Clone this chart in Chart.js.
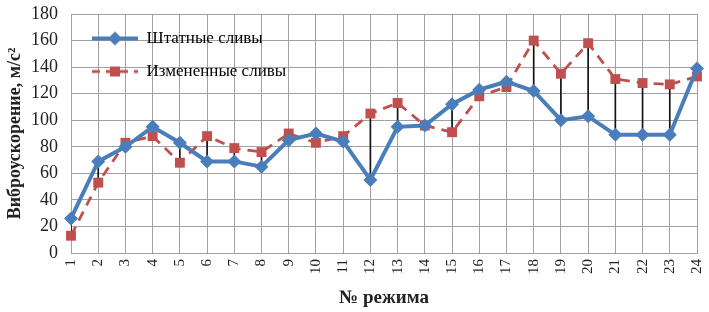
<!DOCTYPE html>
<html>
<head>
<meta charset="utf-8">
<script src="https://cdn.jsdelivr.net/npm/chart.js@4.4.0/dist/chart.umd.min.js"></script>
<style>
  html, body { margin: 0; padding: 0; background: #fff; }
</style>
</head>
<body>
<canvas id="chart" width="709" height="312"></canvas>
<script>
// режимы 1..24
const modes = ['1','2','3','4','5','6','7','8','9','10','11','12','13','14','15','16','17','18','19','20','21','22','23','24'];
const standardDrains = [26, 69, 80, 95, 83, 69, 69, 65, 85, 90, 84, 55, 95, 96, 112, 123, 129, 122, 100, 103, 89, 89, 89, 139];
const modifiedDrains = [13, 53, 83, 88, 68, 88, 79, 76, 90, 83, 88, 105, 113, 96, 91, 118, 125, 160, 135, 158, 131, 128, 127, 133];
const yTicks = [0, 20, 40, 60, 80, 100, 120, 140, 160, 180];

const blue = '#4a7ebb';
const red = '#c0504d';
const serif = '"Liberation Serif", "DejaVu Serif", serif';

// little line+marker pictures for the legend
function legendIcon(color, dashed, diamond) {
  const c = document.createElement('canvas');
  c.width = 46;
  c.height = 16;
  const g = c.getContext('2d');
  g.strokeStyle = color;
  g.lineWidth = dashed ? 2.8 : 4;
  if (dashed) g.setLineDash([8, 6]);
  g.beginPath();
  g.moveTo(0, 8);
  g.lineTo(46, 8);
  g.stroke();
  g.setLineDash([]);
  g.fillStyle = color;
  if (diamond) {
    g.beginPath();
    g.moveTo(23, 1); g.lineTo(30, 8); g.lineTo(23, 15); g.lineTo(16, 8);
    g.closePath();
    g.fill();
  } else {
    g.fillRect(18, 3, 10, 10);
  }
  return c;
}

const icons = [legendIcon(blue, false, true), legendIcon(red, true, false)];

// legend sits inside the plot, top left
const legendInside = {
  id: 'legendInside',
  afterLayout(chart) {
    chart.legend.top = chart.chartArea.top;
    chart.legend.left = chart.chartArea.left + 5;
  }
};

new Chart(document.getElementById('chart'), {
  data: {
    labels: modes,
    datasets: [
      {
        type: 'line',
        label: 'Штатные сливы',
        data: standardDrains,
        borderColor: blue,
        backgroundColor: blue,
        borderWidth: 4,
        pointStyle: 'rectRot',
        pointRadius: 7,
        pointBorderWidth: 0,
        tension: 0,
        order: 1
      },
      {
        type: 'line',
        label: 'Измененные сливы',
        data: modifiedDrains,
        borderColor: red,
        backgroundColor: red,
        borderWidth: 2.8,
        borderDash: [10, 7],
        pointStyle: 'rect',
        pointRadius: 7,
        pointBorderWidth: 0,
        tension: 0,
        order: 2
      },
      {
        // вертикальные линии между сериями
        type: 'bar',
        label: 'drop',
        data: standardDrains.map((v, i) => [v, modifiedDrains[i]]),
        backgroundColor: '#111',
        barThickness: 1,
        order: 3
      }
    ]
  },
  plugins: [legendInside],
  options: {
    responsive: false,
    animation: false,
    layout: { padding: { top: 0, right: 0, left: 2, bottom: 3 } },
    plugins: {
      tooltip: { enabled: false },
      legend: {
        position: 'chartArea',
        align: 'start',
        labels: {
          usePointStyle: true,
          pointStyleWidth: 46,
          padding: 16,
          color: '#222',
          font: { family: serif, size: 17 },
          generateLabels: (chart) => chart.data.datasets.slice(0, 2).map((ds, i) => ({
            text: ds.label,
            pointStyle: icons[i],
            fillStyle: ds.borderColor,
            strokeStyle: ds.borderColor,
            lineWidth: 0,
            hidden: false,
            datasetIndex: i
          }))
        }
      }
    },
    scales: {
      x: {
        offset: false,
        grid: { color: '#a0a0a0', lineWidth: 1, drawTicks: false, offset: false },
        border: { color: '#a0a0a0' },
        ticks: {
          color: '#222',
          font: { family: serif, size: 15 },
          maxRotation: 90,
          minRotation: 90,
          autoSkip: false,
          padding: 6
        },
        title: {
          display: true,
          text: '№ режима',
          color: '#222',
          font: { family: serif, size: 19, weight: 'bold' },
          padding: { top: 12, bottom: 0 }
        },
        afterFit: (axis) => {
          axis.height = 56;
          axis.paddingLeft = 0;
          axis.paddingRight = 12;
        }
      },
      y: {
        min: 0,
        max: 180,
        afterBuildTicks: (axis) => { axis.ticks = yTicks.map(v => ({ value: v })); },
        grid: { color: '#a0a0a0', lineWidth: 1, drawTicks: false },
        border: { color: '#a0a0a0' },
        ticks: {
          color: '#222',
          font: { family: serif, size: 18 },
          padding: 13
        },
        title: {
          display: true,
          text: 'Виброускорение, м/с²',
          color: '#222',
          font: { family: serif, size: 18, weight: 'bold' },
          padding: { top: 3, bottom: 8 }
        },
        afterFit: (axis) => {
          axis.width = 69;
          axis.paddingTop = 14;
          axis.paddingBottom = 0;
        }
      }
    }
  }
});
</script>
</body>
</html>
